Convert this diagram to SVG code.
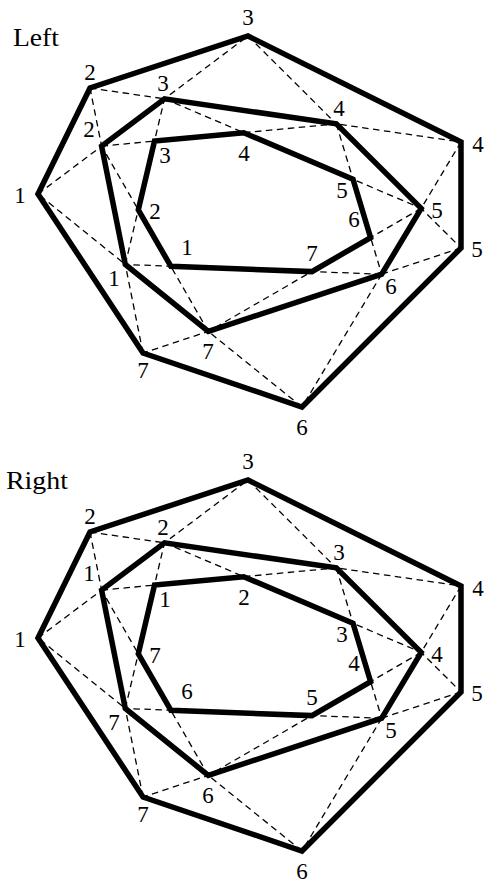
<svg xmlns="http://www.w3.org/2000/svg" width="486" height="884" viewBox="0 0 486 884">
<style>
.poly{fill:none;stroke:#000;stroke-width:5.5;stroke-linejoin:miter;stroke-miterlimit:10}
.dash{fill:none;stroke:#000;stroke-width:1.3;stroke-dasharray:6.5,4.5}
</style>
<rect width="486" height="884" fill="#fff"/>

<!-- ===== Left (top) ===== -->
<g id="left-diagram" font-family="'Liberation Serif', 'DejaVu Serif', serif" fill="#000">
<text x="13" y="46" font-size="26" textLength="46" lengthAdjust="spacingAndGlyphs">Left</text>
<g id="left-connectors">
<line class="dash" x1="38" y1="194" x2="248" y2="36"/>
<line class="dash" x1="90" y1="88" x2="461" y2="142"/>
<line class="dash" x1="248" y1="36" x2="461" y2="248"/>
<line class="dash" x1="461" y1="142" x2="302" y2="407"/>
<line class="dash" x1="461" y1="248" x2="143" y2="353"/>
<line class="dash" x1="302" y1="407" x2="38" y2="194"/>
<line class="dash" x1="143" y1="353" x2="90" y2="88"/>
<line class="dash" x1="125.3" y1="264.5" x2="164.5" y2="98.8"/>
<line class="dash" x1="101.6" y1="146.1" x2="336.3" y2="123.9"/>
<line class="dash" x1="164.5" y1="98.8" x2="421.2" y2="208.4"/>
<line class="dash" x1="336.3" y1="123.9" x2="381.7" y2="274.2"/>
<line class="dash" x1="421.2" y1="208.4" x2="208.3" y2="331.4"/>
<line class="dash" x1="381.7" y1="274.2" x2="125.3" y2="264.5"/>
<line class="dash" x1="208.3" y1="331.4" x2="101.6" y2="146.1"/>
</g>
<g id="left-outer" font-size="23" text-anchor="middle">
<polygon class="poly" points="38,194 90,88 248,36 461,142 461,248 302,407 143,353"/>
<text x="20" y="203">1</text>
<text x="90" y="80">2</text>
<text x="248" y="25">3</text>
<text x="478" y="152">4</text>
<text x="477" y="257">5</text>
<text x="302" y="435">6</text>
<text x="143" y="378">7</text>
</g>
<g id="left-middle" font-size="23" text-anchor="middle">
<polygon class="poly" points="125.3,264.5 101.6,146.1 164.5,98.8 336.3,123.9 421.2,208.4 381.7,274.2 208.3,331.4"/>
<text x="114" y="286">1</text>
<text x="89" y="137">2</text>
<text x="163" y="91">3</text>
<text x="339" y="116">4</text>
<text x="437" y="218">5</text>
<text x="391" y="294">6</text>
<text x="208" y="359">7</text>
</g>
<g id="left-inner" font-size="23" text-anchor="middle">
<polygon class="poly" points="170.8,266.2 138.3,209.8 154.5,141.1 243.8,132.7 353,179.3 370.6,237.6 311.9,271.6"/>
<text x="187" y="255">1</text>
<text x="155" y="219">2</text>
<text x="165" y="163">3</text>
<text x="244" y="161">4</text>
<text x="342" y="198">5</text>
<text x="354" y="227">6</text>
<text x="312" y="261">7</text>
</g>
</g>

<!-- ===== Right (bottom) ===== -->
<g id="right-diagram" font-family="'Liberation Serif', 'DejaVu Serif', serif" fill="#000">
<text x="6" y="489" font-size="26" textLength="62" lengthAdjust="spacingAndGlyphs">Right</text>
<g transform="translate(0,444)">
<g id="right-connectors">
<line class="dash" x1="38" y1="194" x2="248" y2="36"/>
<line class="dash" x1="90" y1="88" x2="461" y2="142"/>
<line class="dash" x1="248" y1="36" x2="461" y2="248"/>
<line class="dash" x1="461" y1="142" x2="302" y2="407"/>
<line class="dash" x1="461" y1="248" x2="143" y2="353"/>
<line class="dash" x1="302" y1="407" x2="38" y2="194"/>
<line class="dash" x1="143" y1="353" x2="90" y2="88"/>
<line class="dash" x1="125.3" y1="264.5" x2="164.5" y2="98.8"/>
<line class="dash" x1="101.6" y1="146.1" x2="336.3" y2="123.9"/>
<line class="dash" x1="164.5" y1="98.8" x2="421.2" y2="208.4"/>
<line class="dash" x1="336.3" y1="123.9" x2="381.7" y2="274.2"/>
<line class="dash" x1="421.2" y1="208.4" x2="208.3" y2="331.4"/>
<line class="dash" x1="381.7" y1="274.2" x2="125.3" y2="264.5"/>
<line class="dash" x1="208.3" y1="331.4" x2="101.6" y2="146.1"/>
</g>
<g id="right-outer" font-size="23" text-anchor="middle">
<polygon class="poly" points="38,194 90,88 248,36 461,142 461,248 302,407 143,353"/>
<text x="20" y="203">1</text>
<text x="90" y="80">2</text>
<text x="248" y="25">3</text>
<text x="478" y="152">4</text>
<text x="477" y="257">5</text>
<text x="302" y="435">6</text>
<text x="143" y="378">7</text>
</g>
<g id="right-middle" font-size="23" text-anchor="middle">
<polygon class="poly" points="125.3,264.5 101.6,146.1 164.5,98.8 336.3,123.9 421.2,208.4 381.7,274.2 208.3,331.4"/>
<text x="114" y="286">7</text>
<text x="89" y="137">1</text>
<text x="163" y="91">2</text>
<text x="339" y="116">3</text>
<text x="437" y="218">4</text>
<text x="391" y="294">5</text>
<text x="208" y="359">6</text>
</g>
<g id="right-inner" font-size="23" text-anchor="middle">
<polygon class="poly" points="170.8,266.2 138.3,209.8 154.5,141.1 243.8,132.7 353,179.3 370.6,237.6 311.9,271.6"/>
<text x="187" y="255">6</text>
<text x="155" y="219">7</text>
<text x="165" y="163">1</text>
<text x="244" y="161">2</text>
<text x="342" y="198">3</text>
<text x="354" y="227">4</text>
<text x="312" y="261">5</text>
</g>
</g>
</g>
</svg>
